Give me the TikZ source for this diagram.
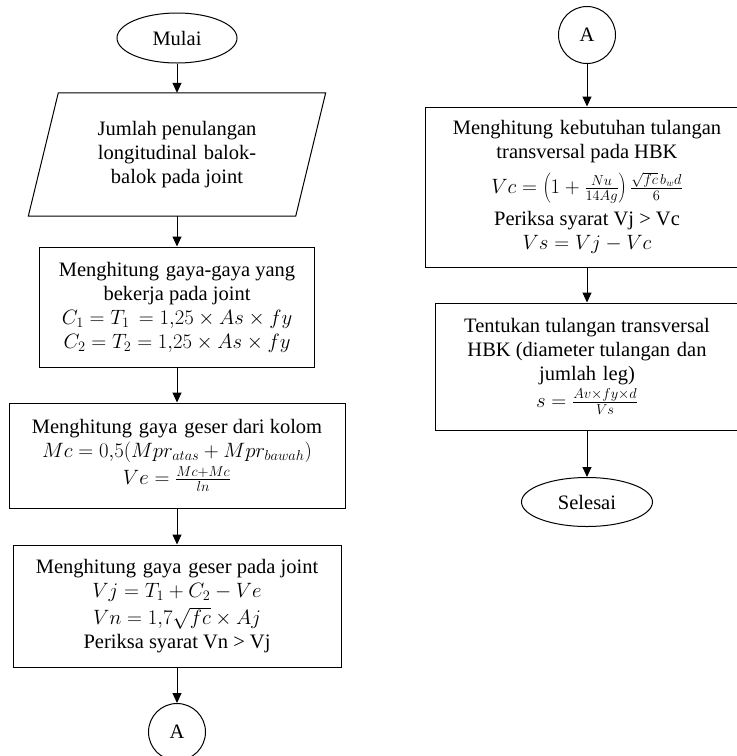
\documentclass[tikz,border=0pt]{standalone}
\usepackage{fontspec}
\setmainfont{Liberation Serif}
\usetikzlibrary{arrows.meta,shapes.geometric}

\begin{document}
\begin{tikzpicture}[x=1pt,y=-1pt,
  every node/.style={font=\fontsize{20.5}{24}\selectfont, align=center, inner sep=0pt},
  proc/.style={draw, line width=1pt, rectangle},
  term/.style={draw, line width=1pt, ellipse},
  conn/.style={draw, line width=1pt, circle, minimum size=57pt},
  flow/.style={-{Triangle[width=9pt,length=10pt]}, line width=1pt}
]
\clip (0,0) rectangle (737,756);

% left column
\node[term, minimum width=120pt, minimum height=50pt] (mulai) at (177,38) {Mulai};

\node[minimum width=297pt, minimum height=123pt] (inp) at (177,154.5)
  {Jumlah penulangan\\ longitudinal\,\,balok-\\ balok pada joint};
\draw[line width=1pt] ([xshift=30pt]inp.north west) -- (inp.north east)
  -- ([xshift=-30pt]inp.south east) -- (inp.south west) -- cycle;

\node[proc, minimum width=275pt, minimum height=120pt] (gaya) at (177,307)
  {Menghitung\,\,gaya-gaya yang\\ bekerja pada joint\\
   $C_1=T_1\,=1{,}25\times As\times fy$\\ $C_2=T_2=1{,}25\times As\times fy$};

\node[proc, minimum width=336pt, minimum height=105pt] (kolom) at (177,455.5)
  {Menghitung\,\,gaya\,\,geser dari kolom\\
   $Mc=0{,}5(Mpr_{atas}+Mpr_{bawah})$\\[3pt]
   $Ve=\frac{Mc+Mc}{ln}$};

\node[proc, minimum width=328pt, minimum height=122pt] (joint) at (177,606)
  {Menghitung\,\,gaya\,\,geser pada joint\\
   $Vj=T_1+C_2-Ve$\\[3pt]
   $Vn=1{,}7\sqrt{fc}\times Aj$\\
   Periksa syarat Vn > Vj};

\node[conn] (a1) at (177,732) {A};

% right column
\node[conn] (a2) at (587,35) {A};

\node[proc, minimum width=324pt, minimum height=160pt] (vc) at (587,187)
  {Menghitung\,\,kebutuhan tulangan\\ transversal pada HBK\\[9pt]
   $Vc=\left(1+\frac{Nu}{14Ag}\right)\frac{\sqrt{fc}\,b_wd}{6}$\\[7pt]
   Periksa syarat Vj > Vc\\
   $Vs=Vj-Vc$};

\node[proc, minimum width=304pt, minimum height=127pt] (hbk) at (587,366.5)
  {Tentukan tulangan transversal\\ HBK (diameter tulangan\,\,dan\\
   jumlah\,\,leg)\\[3pt]
   $s=\frac{Av\times fy\times d}{Vs}$};

\node[term, minimum width=131pt, minimum height=49pt] (selesai) at (587,502) {Selesai};

% connectors
\draw[flow] (mulai) -- (inp);
\draw[flow] (inp) -- (gaya);
\draw[flow] (gaya) -- (kolom);
\draw[flow] (kolom) -- (joint);
\draw[flow] (joint) -- (a1);
\draw[flow] (a2) -- (vc);
\draw[flow] (vc) -- (hbk);
\draw[flow] (hbk) -- (selesai);
\end{tikzpicture}
\end{document}
